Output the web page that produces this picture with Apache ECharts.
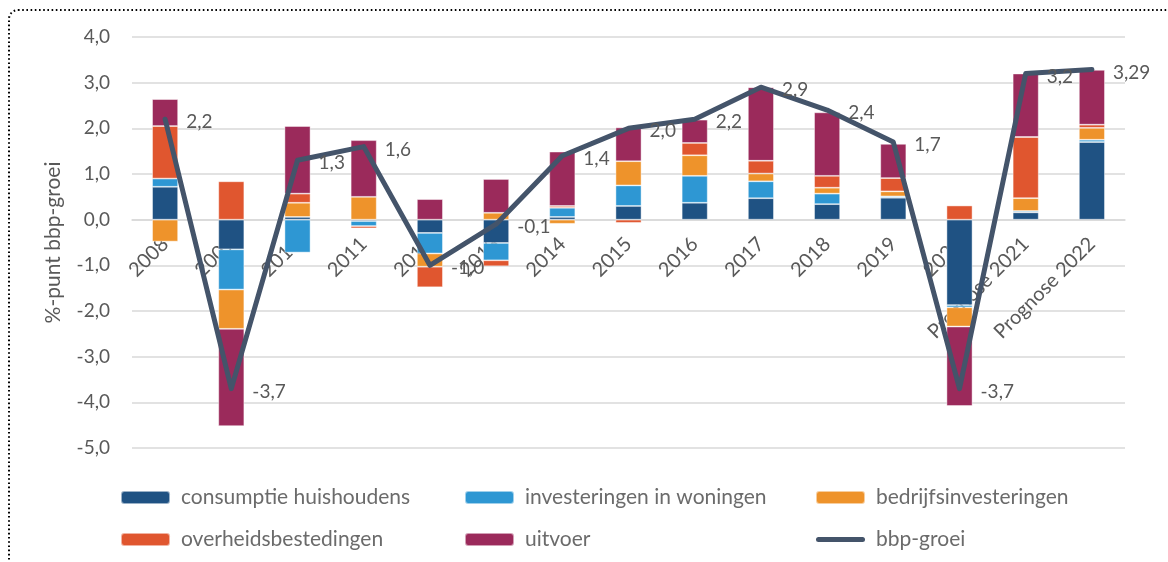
<!DOCTYPE html>
<html>
<head>
<meta charset="utf-8">
<script src="https://cdn.jsdelivr.net/npm/echarts@6/dist/echarts.min.js"></script>
<style>
  html, body { margin: 0; padding: 0; background: #fff; }
  #main { width: 1168px; height: 562px; }
</style>
</head>
<body>
<div id="main"></div>
<script>
// categorieen en bijdragen (%-punt bbp-groei)
var categories = ['2008', '2009', '2010', '2011', '2012', '2013', '2014', '2015', '2016', '2017', '2018', '2019', '2020', 'Prognose 2021', 'Prognose 2022'];
var consumptie = [0.72, -0.65, 0.06, -0.03, -0.29, -0.51, 0.06, 0.30, 0.37, 0.47, 0.34, 0.48, -1.87, 0.16, 1.70];
var woningen = [0.18, -0.88, -0.72, -0.11, -0.45, -0.38, 0.20, 0.45, 0.59, 0.37, 0.23, 0.03, -0.05, 0.03, 0.05];
var bedrijfs = [-0.48, -0.86, 0.31, 0.50, -0.29, 0.15, -0.09, 0.53, 0.45, 0.17, 0.13, 0.11, -0.42, 0.28, 0.26];
var overheid = [1.15, 0.84, 0.20, -0.05, -0.45, -0.13, 0.04, -0.07, 0.27, 0.28, 0.26, 0.29, 0.31, 1.34, 0.07];
var uitvoer = [0.59, -2.13, 1.48, 1.24, 0.45, 0.74, 1.19, 0.74, 0.51, 1.61, 1.39, 0.75, -1.74, 1.39, 1.20];
var bbpGroei = [2.2, -3.7, 1.3, 1.6, -1.0, -0.1, 1.4, 2.0, 2.2, 2.9, 2.4, 1.7, -3.7, 3.2, 3.29];

var fontFam = 'Lato, "Open Sans", sans-serif';
var textGrey = '#595959';
var yMin = -5, yMax = 4;
var gridTop = 37, gridBottom = 114;

function komma(v) {
    var s = Number.isInteger(v) ? v.toFixed(1) : String(v);
    return s.replace('.', ',');
}

function barSerie(name, data, color) {
    return {
        name: name,
        type: 'bar',
        stack: 'bijdrage',
        barWidth: 26,
        data: data,
        itemStyle: {
            color: color,
            borderColor: 'rgba(255,255,255,0.55)',
            borderWidth: 0.8
        }
    };
}

// x-as op de nullijn: verschuiving vanaf onderkant van de grid
var plotH = 562 - gridTop - gridBottom;
var zeroShift = plotH * (0 - yMin) / (yMax - yMin);

var legendText = { fontSize: 21, color: '#6b6b6b', fontFamily: fontFam, padding: [0, 0, 0, 6] };
var lineIcon = 'path://M2.5,0 L46.5,0 A2.5,2.5 0 0 1 46.5,5 L2.5,5 A2.5,2.5 0 0 1 2.5,0 Z';

function kolom(left, items) {
    return {
        left: left, top: 487, orient: 'vertical', itemGap: 21, padding: 0,
        itemWidth: 49, itemHeight: 13, textStyle: legendText,
        data: items
    };
}

var chart = echarts.init(document.getElementById('main'));
var option = {
    animation: false,
    textStyle: { fontFamily: fontFam },
    grid: { left: 132, right: 43, top: gridTop, bottom: gridBottom },
    graphic: [{
        type: 'rect',
        shape: { x: 9, y: 10, width: 1300, height: 800, r: [9, 0, 0, 0] },
        style: { fill: 'none', stroke: '#000', lineWidth: 2, lineDash: [1.6, 2.6] },
        silent: true
    }],
    legend: [
        kolom(120, ['consumptie huishoudens', 'overheidsbestedingen']),
        kolom(464, ['investeringen in woningen', 'uitvoer']),
        kolom(815, ['bedrijfsinvesteringen', {
            name: 'bbp-groei', icon: lineIcon,
            itemStyle: { color: '#44546a', borderWidth: 0 }
        }])
    ],
    xAxis: {
        type: 'category',
        data: categories,
        offset: -zeroShift,
        axisLine: { onZero: false, lineStyle: { color: '#d9d9d9', width: 1.5 } },
        axisTick: { show: false },
        axisLabel: { rotate: 45, margin: 21, fontSize: 20, color: textGrey, interval: 0 }
    },
    yAxis: {
        type: 'value',
        min: yMin,
        max: yMax,
        interval: 1,
        name: '%-punt bbp-groei',
        nameLocation: 'middle',
        nameGap: 68,
        nameTextStyle: { fontSize: 21, color: textGrey },
        axisLabel: {
            margin: 22, fontSize: 19, color: textGrey,
            formatter: function (v) { return v.toFixed(1).replace('.', ','); }
        },
        splitLine: { lineStyle: { color: '#d9d9d9', width: 1.5 } }
    },
    series: [
        barSerie('consumptie huishoudens', consumptie, '#1f5283'),
        barSerie('investeringen in woningen', woningen, '#2e97d3'),
        barSerie('bedrijfsinvesteringen', bedrijfs, '#ee932b'),
        barSerie('overheidsbestedingen', overheid, '#e0562f'),
        barSerie('uitvoer', uitvoer, '#9b2a5b'),
        {
            name: 'bbp-groei',
            type: 'line',
            data: bbpGroei,
            symbol: 'circle',
            symbolSize: 0.1,
            showSymbol: true,
            z: 5,
            lineStyle: { color: '#44546a', width: 5, cap: 'round', join: 'round' },
            itemStyle: { color: '#44546a' },
            label: {
                show: true,
                position: 'right',
                distance: 0,
                fontSize: 19,
                color: textGrey,
                formatter: function (p) { return komma(p.value); }
            },
            labelLayout: { hideOverlap: false, dx: 21, dy: 3 }
        }
    ]
};
chart.setOption(option);
</script>
</body>
</html>
